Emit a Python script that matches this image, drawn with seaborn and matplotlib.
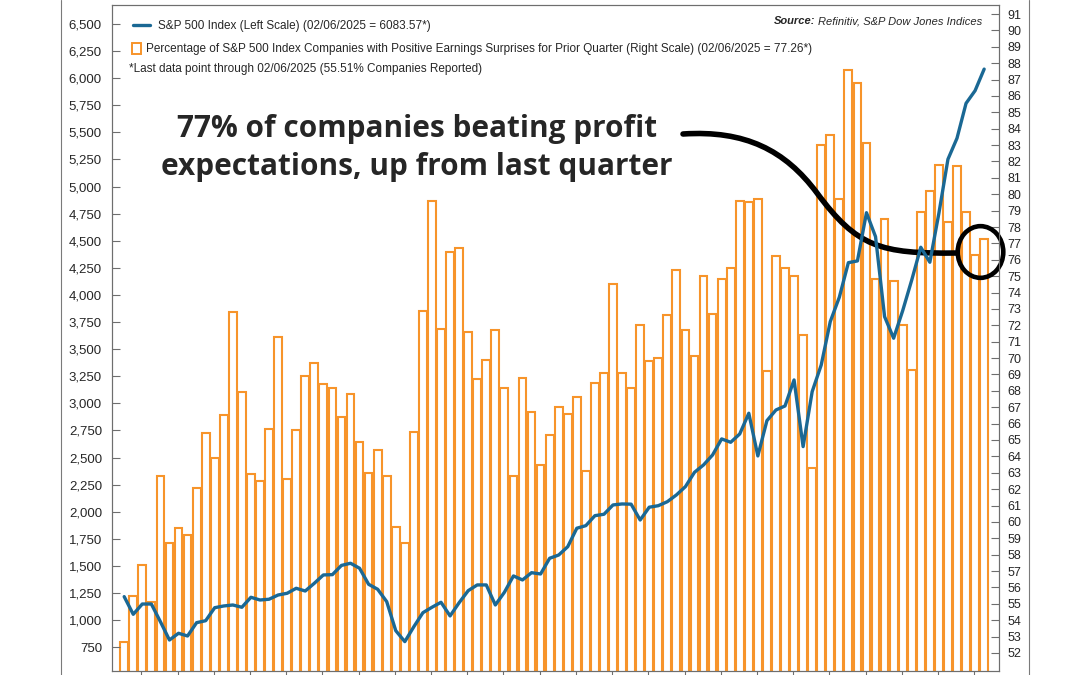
"""
S&P 500 index vs share of companies beating earnings estimates.
Bars on the right scale, index line on the left scale.
"""

import numpy as np
import pandas as pd
import matplotlib
matplotlib.use('Agg')
import matplotlib.pyplot as plt
import seaborn as sns
from matplotlib.lines import Line2D
from matplotlib.patches import Rectangle, Ellipse, PathPatch
from matplotlib.path import Path

# quarterly data, 2001 Q2 through the partial 2025 Q1 reading
quarters = pd.period_range('2001Q2', periods=96, freq='Q').astype(str)

sp500 = [1217, 1054, 1149, 1149, 986, 817, 879, 854, 977, 995,
         1115, 1131, 1140, 1119, 1211, 1186, 1193, 1232, 1248, 1294,
         1269, 1340, 1417, 1420, 1505, 1525, 1479, 1331, 1285, 1171,
         903, 802, 940, 1069, 1119, 1165, 1039, 1161, 1272, 1325,
         1325, 1140, 1257, 1408, 1371, 1438, 1426, 1571, 1601, 1678,
         1848, 1872, 1964, 1977, 2063, 2072, 2070, 1924, 2042, 2056,
         2093, 2155, 2232, 2364, 2432, 2524, 2672, 2641, 2718, 2909,
         2515, 2840, 2939, 2976, 3216, 2601, 3108, 3354, 3754, 3979,
         4298, 4314, 4759, 4538, 3800, 3601, 3855, 4138, 4440, 4302,
         4754, 5252, 5446, 5768, 5885, 6083.57]

pct_beat = [52.7, 55.5, 57.4, 55.1, 62.8, 58.7, 59.6, 59.2, 62.1, 65.4,
            63.9, 66.5, 72.8, 67.9, 62.9, 62.5, 65.7, 71.3, 62.6, 65.6,
            68.9, 69.7, 68.4, 68.2, 66.4, 67.8, 64.9, 63.0, 64.4, 62.8,
            59.7, 58.7, 65.5, 72.9, 79.6, 71.8, 76.5, 76.7, 71.6, 68.7,
            69.9, 71.7, 68.2, 62.8, 68.8, 66.7, 63.5, 65.3, 67.0, 66.6,
            67.6, 63.1, 68.5, 69.1, 74.5, 69.1, 68.2, 72.0, 69.8, 70.0,
            72.6, 75.4, 71.7, 70.1, 75.0, 72.7, 74.8, 75.5, 79.6, 79.5,
            79.7, 69.2, 76.2, 75.5, 75.0, 71.4, 63.3, 83.0, 83.6, 79.7,
            87.6, 86.8, 83.1, 74.8, 78.5, 74.7, 72.0, 69.3, 78.9, 80.2,
            81.8, 78.3, 81.7, 78.9, 76.3, 77.26]

left_ticks = list(range(750, 6501, 250))
right_ticks = list(range(52, 92))

line_label = 'S&P 500 Index (Left Scale) (02/06/2025 = 6083.57*)'
bar_label = ('Percentage of S&P 500 Index Companies with Positive Earnings Surprises '
             'for Prior Quarter (Right Scale) (02/06/2025 = 77.26*)')
footnote = '*Last data point through 02/06/2025 (55.51% Companies Reported)'
callout = '77% of companies beating profit\nexpectations, up from last quarter'

BLUE = '#1a6894'
ORANGE = '#f7942a'
GREY = '#6e6e6e'

df = pd.DataFrame({'pos': np.arange(len(quarters)), 'quarter': quarters,
                   'sp500': sp500, 'pct': pct_beat})

sns.set_theme(style='white')
plt.rcParams['font.family'] = ['Liberation Sans', 'DejaVu Sans']

W, H = 1080, 675


def fx(px):
    return px / W


def fy(py):
    return 1 - py / H


fig = plt.figure(figsize=(W / 100, H / 100), dpi=100)
ax = fig.add_axes([fx(111.7), fy(671), fx(999) - fx(111.7), fy(5) - fy(671)])
ax2 = ax.twinx()

# bars on the right scale
sns.barplot(data=df, x='pos', y='pct', ax=ax2, native_scale=True, fill=False,
            color=ORANGE, width=0.86, linewidth=1.5, errorbar=None)

# index line on the left scale
sns.lineplot(data=df, x='pos', y='sp500', ax=ax, color=BLUE, linewidth=2.4)

ax.set_zorder(ax2.get_zorder() + 1)
ax.patch.set_visible(False)

ax.set_xlim(-1.38, 96.64)
ax.set_ylim(531, 6675)
ax2.set_ylim(50.9, 91.55)

ax.set_yticks(left_ticks)
ax.set_yticklabels([f'{v:,}' for v in left_ticks])
ax2.set_yticks(right_ticks)
ax2.set_yticklabels([str(v) for v in right_ticks])
ax.set_xticks(np.arange(1.9, 96, 4))
ax.set_xticklabels([])

ax.tick_params(axis='y', direction='in', length=6, width=0.8, color=GREY,
               labelsize=9.5, pad=7, left=True)
ax2.tick_params(axis='y', direction='in', length=6, width=0.8, color=GREY,
                labelsize=9, pad=6, right=True)
ax.tick_params(axis='x', direction='out', length=4, width=0.8, color=GREY, bottom=True)

for a in (ax, ax2):
    a.set_xlabel('')
    a.set_ylabel('')
    for s in a.spines.values():
        s.set_color(GREY)
        s.set_linewidth(0.8)

# legend rows
leg1 = ax.legend(handles=[Line2D([], [], color=BLUE, lw=2.4)], labels=[line_label],
                 loc='center left', bbox_to_anchor=(fx(133), fy(26)),
                 bbox_transform=fig.transFigure, frameon=False, fontsize=8.5,
                 handlelength=1.44, handletextpad=0.68, borderpad=0, borderaxespad=0)
ax.add_artist(leg1)
ax.legend(handles=[Rectangle((0, 0), 1, 1, facecolor='white', edgecolor=ORANGE, lw=1.4)],
          labels=[bar_label], loc='center left', bbox_to_anchor=(fx(132), fy(49)),
          bbox_transform=fig.transFigure, frameon=False, fontsize=8.5,
          handlelength=0.76, handleheight=1.1, handletextpad=0.45,
          borderpad=0, borderaxespad=0)

fig.text(fx(129), fy(69), footnote, fontsize=8.5, va='center')
fig.text(fx(815), fy(21), 'Source:', fontsize=8, style='italic', weight='bold',
         ha='right', va='center')
fig.text(fx(982), fy(21), 'Refinitiv, S&P Dow Jones Indices', fontsize=8,
         style='italic', ha='right', va='center')

# callout text, connector and circle
fig.text(fx(417), fy(148), callout, ha='center', va='center', fontsize=21.4,
         fontweight='bold', family=['Open Sans', 'DejaVu Sans'], linespacing=1.34)

pts = [(683, 134), (745, 130), (785, 150), (817, 193), (857, 247), (880, 254), (957, 253)]
verts = [(fx(x), fy(y)) for x, y in pts]
codes = [Path.MOVETO] + [Path.CURVE4] * 6
fig.add_artist(PathPatch(Path(verts, codes), transform=fig.transFigure, fill=False,
                         lw=4, edgecolor='black', capstyle='round'))
fig.add_artist(Ellipse((fx(980.5), fy(252)), 45.6 / W, 51.7 / H, transform=fig.transFigure,
                       fill=False, lw=3.3, edgecolor='black'))

# outer page frame
for px in (61, 1029):
    fig.add_artist(Line2D([fx(px), fx(px)], [0, 1], transform=fig.transFigure,
                          color='#7a7a7a', lw=0.8))

fig.savefig('out.png', dpi=100)
plt.close(fig)
print('saved out.png')
